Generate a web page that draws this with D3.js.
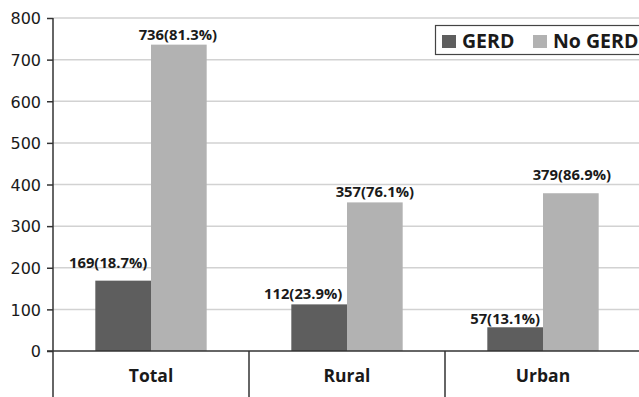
<!DOCTYPE html>
<html><head><meta charset="utf-8">
<script src="https://cdn.jsdelivr.net/npm/d3@7"></script>
<style>html,body{margin:0;padding:0;background:#fff;overflow:hidden}</style>
</head><body>
<svg id="chart" width="639" height="397"></svg>
<script>
const categories = ["Total", "Rural", "Urban"];
const seriesNames = ["GERD", "No GERD"];
const gerdValues = [169, 112, 57];
const noGerdValues = [736, 357, 379];
const gerdLabels = ["169(18.7%)", "112(23.9%)", "57(13.1%)"];
const noGerdLabels = ["736(81.3%)", "357(76.1%)", "379(86.9%)"];
const yTicks = [0, 100, 200, 300, 400, 500, 600, 700, 800];

// layout-only label nudges (dx, dy) relative to bar top centre
const labelNudge = [
  [[-15, -13], [-1, -5]],
  [[-16, -5], [0, -5]],
  [[-10, -3], [1, -13]]
];
const colors = ["#5e5e5e", "#b2b2b2"];

(function () {
const svg = d3.select("#chart");
const mLeft = 53, mRight = 641, mTop = 18, mBottom = 351;

const x0 = d3.scaleBand().domain(categories).range([mLeft, mRight]).paddingInner(0).paddingOuter(0);
const x1 = d3.scaleBand().domain(seriesNames).range([0, x0.bandwidth()]).paddingInner(0).paddingOuter(0.76);
const y = d3.scaleLinear().domain([0, 800]).range([mBottom, mTop]);

svg.append("g").selectAll("line").data(yTicks.filter(d => d > 0)).join("line")
  .attr("x1", mLeft).attr("x2", 639)
  .attr("y1", d => y(d)).attr("y2", d => y(d))
  .attr("stroke", "#d2d2d2").attr("stroke-width", 1.5);

const rows = categories.map((c, i) => ({
  cat: c, i,
  vals: [
    { s: seriesNames[0], v: gerdValues[i], lab: gerdLabels[i], k: 0, i },
    { s: seriesNames[1], v: noGerdValues[i], lab: noGerdLabels[i], k: 1, i }
  ]
}));

const groups = svg.append("g").selectAll("g").data(rows).join("g")
  .attr("transform", d => `translate(${x0(d.cat)},0)`);

groups.selectAll("rect").data(d => d.vals).join("rect")
  .attr("x", d => x1(d.s)).attr("width", x1.bandwidth())
  .attr("y", d => y(d.v)).attr("height", d => y(0) - y(d.v))
  .attr("fill", d => colors[d.k]);

groups.selectAll("text").data(d => d.vals).join("text")
  .attr("x", d => x1(d.s) + x1.bandwidth() / 2 + labelNudge[d.i][d.k][0])
  .attr("y", d => y(d.v) + labelNudge[d.i][d.k][1])
  .attr("text-anchor", "middle")
  .attr("font-family", "'Open Sans', sans-serif").attr("font-weight", "bold")
  .attr("font-size", "14.8px").attr("fill", "#1a1a1a")
  .text(d => d.lab);

const yAxis = d3.axisLeft(y).tickValues(yTicks).tickSize(6).tickPadding(6);
const ya = svg.append("g").attr("transform", `translate(${mLeft},0)`).call(yAxis);
ya.select(".domain").remove();
ya.selectAll(".tick line").attr("stroke", "#333").attr("stroke-width", 1.5);
ya.selectAll(".tick text").attr("font-family", "'DejaVu Sans', sans-serif")
  .attr("font-size", "16px").attr("fill", "#1a1a1a").attr("dy", "0.36em");
svg.append("line").attr("x1", mLeft).attr("x2", mLeft).attr("y1", mTop).attr("y2", 397)
  .attr("stroke", "#333").attr("stroke-width", 1.5);

svg.append("line").attr("x1", mLeft - 6).attr("x2", 639).attr("y1", y(0)).attr("y2", y(0))
  .attr("stroke", "#333").attr("stroke-width", 1.5);

svg.append("g").selectAll("line").data(categories.slice(1)).join("line")
  .attr("x1", d => x0(d)).attr("x2", d => x0(d)).attr("y1", y(0)).attr("y2", 397)
  .attr("stroke", "#333").attr("stroke-width", 1.5);
svg.append("g").selectAll("text").data(categories).join("text")
  .attr("x", d => x0(d) + x0.bandwidth() / 2).attr("y", 382)
  .attr("text-anchor", "middle")
  .attr("font-family", "'Open Sans', sans-serif").attr("font-weight", "bold")
  .attr("font-size", "17.5px").attr("fill", "#1a1a1a")
  .text(d => d);

const lg = svg.append("g");
lg.append("rect").attr("x", 435.5).attr("y", 25.5).attr("width", 220).attr("height", 29)
  .attr("fill", "#fff").attr("stroke", "#444").attr("stroke-width", 1.2);
const lx = [442, 533];
seriesNames.forEach((s, k) => {
  lg.append("rect").attr("x", lx[k]).attr("y", 35).attr("width", 14).attr("height", 13).attr("fill", colors[k]);
  lg.append("text").attr("x", lx[k] + 20).attr("y", 47.5)
    .attr("font-family", "'Open Sans', sans-serif").attr("font-weight", "bold")
    .attr("font-size", "19.5px").attr("fill", "#1a1a1a").text(s);
});
})();
</script>
</body></html>
